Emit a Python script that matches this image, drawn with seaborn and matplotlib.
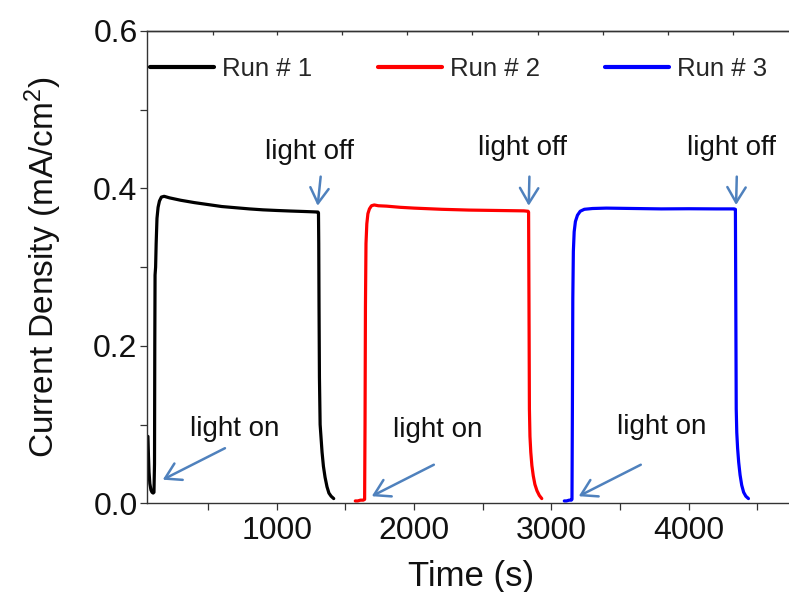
import matplotlib
matplotlib.use("Agg")
import matplotlib.pyplot as plt
import pandas as pd
import seaborn as sns

# Photocurrent transients under chopped illumination, three repeated runs
run_names = ["Run # 1", "Run # 2", "Run # 3"]
run_colors = ["#000000", "#ff0000", "#0000ff"]

time_run1 = [62, 66, 70, 76, 84, 92, 100, 106, 110, 112, 114, 118, 122, 128, 136,
             146, 160, 180, 220, 300, 400, 500, 600, 700, 800, 900, 1000, 1100,
             1200, 1260, 1300, 1304, 1306, 1308, 1311, 1316, 1322, 1330, 1340,
             1352, 1366, 1380, 1396, 1415]
current_run1 = [0.085, 0.060, 0.040, 0.025, 0.017, 0.014, 0.013, 0.014, 0.050,
                0.200, 0.290, 0.300, 0.330, 0.362, 0.376, 0.384, 0.389, 0.390,
                0.388, 0.385, 0.382, 0.3795, 0.377, 0.3755, 0.374, 0.3728, 0.372,
                0.3713, 0.3707, 0.3703, 0.370, 0.369, 0.330, 0.250, 0.160, 0.100,
                0.085, 0.065, 0.047, 0.033, 0.021, 0.013, 0.009, 0.006]

time_run2 = [1572, 1590, 1610, 1630, 1640, 1643, 1646, 1650, 1656, 1664, 1675,
             1690, 1710, 1740, 1800, 1900, 2000, 2200, 2400, 2600, 2800, 2830,
             2834, 2837, 2840, 2844, 2850, 2858, 2868, 2880, 2895, 2912, 2930]
current_run2 = [0.003, 0.003, 0.004, 0.004, 0.005, 0.100, 0.250, 0.330, 0.355,
                0.368, 0.374, 0.378, 0.379, 0.378, 0.3775, 0.376, 0.375, 0.3735,
                0.3725, 0.372, 0.3715, 0.371, 0.370, 0.250, 0.120, 0.085, 0.065,
                0.048, 0.035, 0.024, 0.016, 0.010, 0.006]

time_run3 = [3094, 3110, 3130, 3145, 3150, 3153, 3156, 3160, 3166, 3175, 3190,
             3210, 3240, 3300, 3400, 3600, 3800, 4000, 4200, 4330, 4340, 4343,
             4346, 4350, 4356, 4364, 4374, 4386, 4400, 4416, 4435]
current_run3 = [0.003, 0.003, 0.004, 0.004, 0.005, 0.120, 0.260, 0.320, 0.345,
                0.358, 0.366, 0.371, 0.3735, 0.3745, 0.375, 0.3745, 0.374, 0.3742,
                0.374, 0.374, 0.3735, 0.250, 0.120, 0.090, 0.070, 0.052, 0.036,
                0.023, 0.014, 0.009, 0.006]

x_major = [1000, 2000, 3000, 4000]
x_minor = [500, 1500, 2500, 3500, 4500]
y_major = [0.0, 0.2, 0.4, 0.6]
y_minor = [0.1, 0.3, 0.5]
top_ticks = [538, 999, 1475, 1949, 2425, 2902, 3374, 3847, 4320]

frames = []
for name, t, j in zip(run_names,
                      [time_run1, time_run2, time_run3],
                      [current_run1, current_run2, current_run3]):
    frames.append(pd.DataFrame({"Time (s)": t, "Current": j, "Run": name}))
data = pd.concat(frames, ignore_index=True)

sns.set_style("ticks")
plt.rcParams["font.family"] = ["Liberation Sans", "DejaVu Sans"]
plt.rcParams["mathtext.fontset"] = "custom"
plt.rcParams["mathtext.rm"] = "Liberation Sans"
plt.rcParams["mathtext.it"] = "Liberation Sans:italic"

W, H = 789, 592
fig = plt.figure(figsize=(W / 100, H / 100), dpi=100)
left, right, bottom, top = 147.3, 795.0, 503.3, 31.0
ax = fig.add_axes([left / W, 1 - bottom / H, (right - left) / W, (bottom - top) / H])

sns.lineplot(data=data, x="Time (s)", y="Current", hue="Run",
             palette=dict(zip(run_names, run_colors)), estimator=None,
             sort=False, linewidth=2.3, ax=ax)

ax.set_xlim(57.5, 4774)
ax.set_ylim(0, 0.6)

ax.set_xticks(x_major)
ax.set_xticklabels([str(v) for v in x_major])
ax.set_xticks(x_minor, minor=True)
ax.set_yticks(y_major)
ax.set_yticklabels([f"{v:.1f}" for v in y_major])
ax.set_yticks(y_minor, minor=True)
ax.tick_params(axis="both", which="both", direction="out", length=5,
               width=0.9, color="#333333", labelsize=23, labelcolor="#111111",
               top=False, right=False)
ax.tick_params(axis="y", pad=2)
ax.tick_params(axis="x", pad=4)

for side in ["left", "bottom", "top"]:
    ax.spines[side].set_color("#333333")
    ax.spines[side].set_linewidth(1.0)
ax.spines["right"].set_visible(False)

sec = ax.secondary_xaxis("top")
sec.set_xticks(top_ticks)
sec.set_xticklabels([])
sec.tick_params(direction="in", length=3, width=0.9, color="#333333")
sec.spines["top"].set_color("#333333")
sec.spines["top"].set_linewidth(1.0)

ax.set_xlabel("Time (s)", fontsize=25, color="#111111", labelpad=10)
ax.set_ylabel(r"Current Density (mA/cm$^\mathregular{2}$)", fontsize=24,
              color="#111111", labelpad=21)

sns.move_legend(ax, "center left", bbox_to_anchor=(150 / W, 1 - 69 / H),
                bbox_transform=fig.transFigure, ncol=3, frameon=False,
                title=None, fontsize=18.5, handlelength=2.5,
                handletextpad=0.3, columnspacing=2.55, borderpad=0,
                borderaxespad=0)
for line in ax.get_legend().get_lines():
    line.set_linewidth(3)

arrow_color = "#4f81bd"
arrow_style = "->,head_length=0.55,head_width=0.33"

# "light off" markers at the end of each illuminated period
off_labels = [(1235, 0.446), (2790, 0.451), (4311, 0.451)]
off_arrows = [((1320, 0.415), (1298, 0.378)),
              ((2840, 0.415), (2835, 0.378)),
              ((4350, 0.415), (4345, 0.379))]
# "light on" markers at the start of each illuminated period
on_labels = [(697, 0.095), (2174, 0.093), (3802, 0.097)]
on_arrows = [((623, 0.070), (170, 0.030)),
             ((2144, 0.049), (1692, 0.009)),
             ((3651, 0.049), (3199, 0.009))]

for (tx, ty), (tail, head) in zip(off_labels, off_arrows):
    ax.text(tx, ty, "light off", fontsize=20, color="#111111",
            ha="center", va="center")
    ax.annotate("", xy=head, xytext=tail,
                arrowprops=dict(arrowstyle=arrow_style, color=arrow_color,
                                lw=1.8, shrinkA=0, shrinkB=0,
                                mutation_scale=20))
for (tx, ty), (tail, head) in zip(on_labels, on_arrows):
    ax.text(tx, ty, "light on", fontsize=20, color="#111111",
            ha="center", va="center")
    ax.annotate("", xy=head, xytext=tail,
                arrowprops=dict(arrowstyle=arrow_style, color=arrow_color,
                                lw=1.8, shrinkA=0, shrinkB=0,
                                mutation_scale=20))

fig.savefig("out.png", dpi=100)
